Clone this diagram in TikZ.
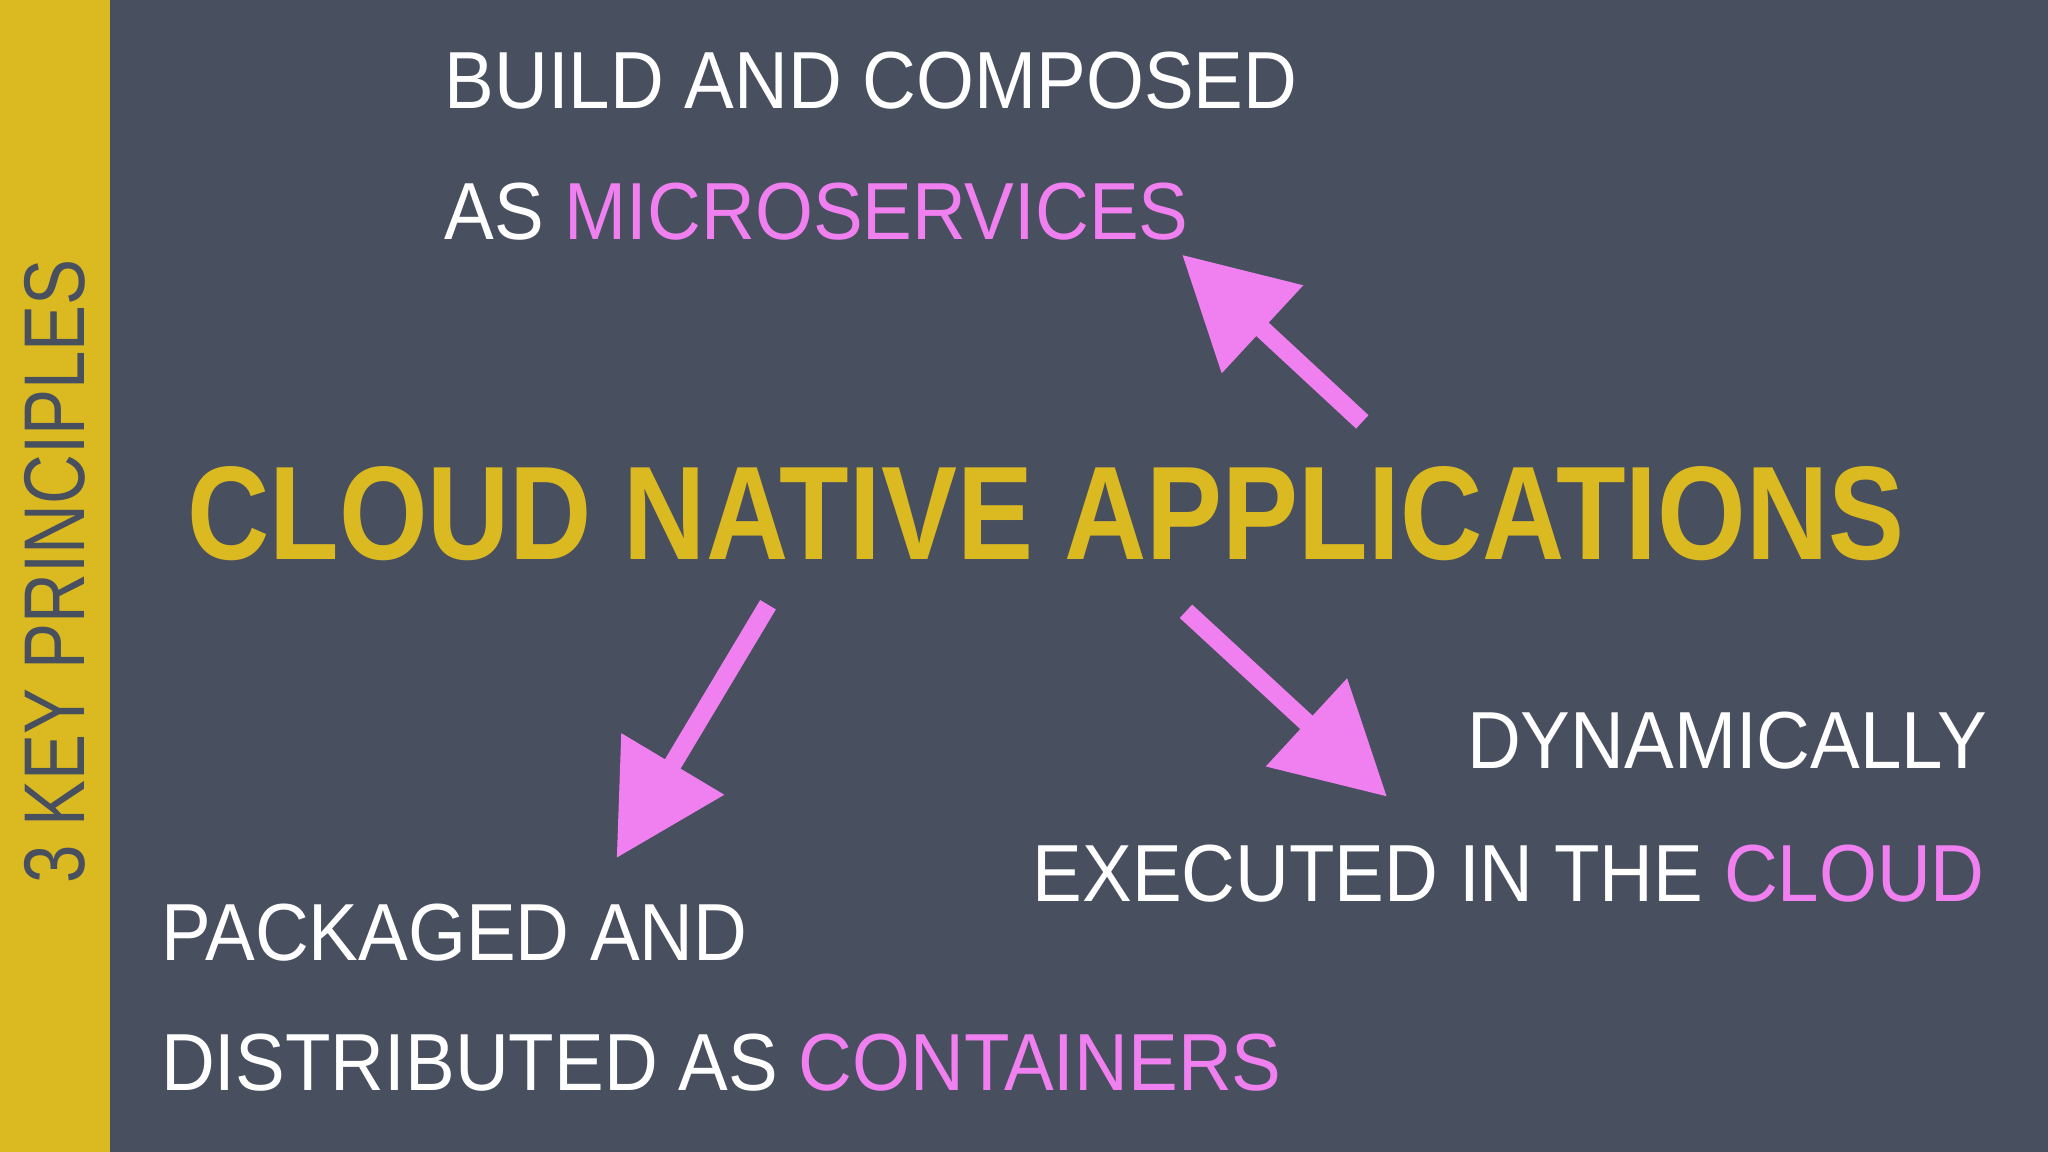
\documentclass[tikz,border=0pt]{standalone}
\usepackage{fontspec}
\setmainfont{Liberation Sans}[FakeStretch=0.92]
\newfontfamily\titlefont{Liberation Sans}[FakeStretch=0.855]
\newfontfamily\sidefont{Liberation Sans}[FakeStretch=0.80]
\usetikzlibrary{arrows.meta}
\definecolor{bg}{HTML}{484F5E}
\definecolor{gold}{HTML}{DBB921}
\definecolor{pink}{HTML}{F07FF0}
\tikzset{
  wtxt/.style={text=white,font=\fontsize{31}{31}\selectfont,inner sep=0pt},
  chalk/.style={pink,line width=7pt,-{Triangle[length=42pt,width=44pt]}}
}
\begin{document}
\begin{tikzpicture}[x=0.5pt,y=-0.5pt]
\useasboundingbox (0,0) rectangle (1568,882);
\fill[bg] (0,0) rectangle (1568,882);
\fill[gold] (0,0) rectangle (84,882);
\node[rotate=90,anchor=base west,text=bg,font=\sidefont\fontsize{33}{33}\selectfont,inner sep=0pt] (side) at (65,677) {3 KEY PRINCIPLES};
\node[anchor=base west,text=gold,font=\titlefont\fontsize{51}{51}\selectfont\bfseries,inner sep=0pt] (title) at (143,428) {CLOUD NATIVE APPLICATIONS};
\node[wtxt,anchor=base west] (t1) at (340,83) {BUILD AND COMPOSED};
\node[wtxt,anchor=base west] (t2) at (340,183) {AS \textcolor{pink}{MICROSERVICES}};
\node[wtxt,anchor=base west] (t3) at (123,735) {PACKAGED AND};
\node[wtxt,anchor=base west] (t4) at (123,835) {DISTRIBUTED AS \textcolor{pink}{CONTAINERS}};
\node[wtxt,anchor=base east] (t5) at (1522,588) {DYNAMICALLY};
\node[wtxt,anchor=base east] (t6) at (1520,690) {EXECUTED IN THE \textcolor{pink}{CLOUD}};
\coordinate (a1s) at (1043,323); \coordinate (a1e) at (905,195);
\coordinate (a2s) at (588,463); \coordinate (a2e) at (472,657);
\coordinate (a3s) at (908,468); \coordinate (a3e) at (1062,610);
\draw[chalk] (a1s) -- (a1e);
\draw[chalk] (a2s) -- (a2e);
\draw[chalk] (a3s) -- (a3e);
\end{tikzpicture}
\end{document}
